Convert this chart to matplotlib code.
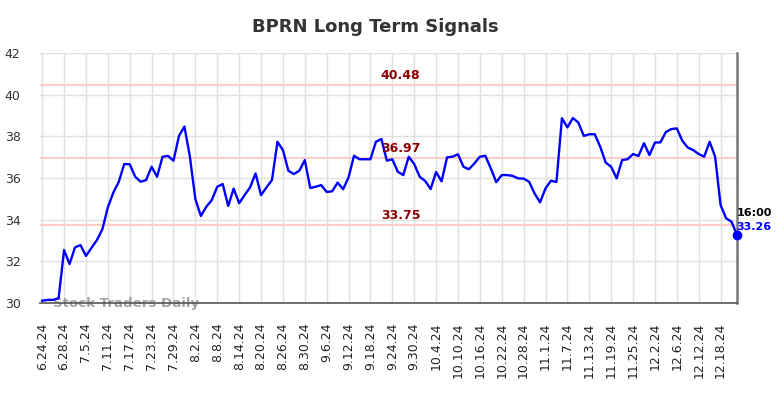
import matplotlib
matplotlib.use("Agg")
import matplotlib.pyplot as plt

title = "BPRN Long Term Signals"
tick_labels = ["6.24.24", "6.28.24", "7.5.24", "7.11.24", "7.17.24", "7.23.24", "7.29.24",
               "8.2.24", "8.8.24", "8.14.24", "8.20.24", "8.26.24", "8.30.24", "9.6.24",
               "9.12.24", "9.18.24", "9.24.24", "9.30.24", "10.4.24", "10.10.24", "10.16.24",
               "10.22.24", "10.28.24", "11.1.24", "11.7.24", "11.13.24", "11.19.24",
               "11.25.24", "12.2.24", "12.6.24", "12.12.24", "12.18.24"]
tick_step = 4

prices = [
    30.11, 30.15, 30.15, 30.23, 32.54, 31.87, 32.67, 32.78, 32.26, 32.64,
    33.02, 33.54, 34.59, 35.30, 35.82, 36.67, 36.66, 36.06, 35.82, 35.90,
    36.54, 36.06, 37.02, 37.06, 36.83, 38.02, 38.47, 37.02, 34.98, 34.18,
    34.62, 34.94, 35.58, 35.71, 34.66, 35.49, 34.79, 35.18, 35.55, 36.22,
    35.18, 35.55, 35.90, 37.74, 37.34, 36.35, 36.19, 36.35, 36.86, 35.52,
    35.58, 35.66, 35.33, 35.36, 35.78, 35.46, 36.03, 37.07, 36.90, 36.90,
    36.90, 37.74, 37.87, 36.83, 36.90, 36.30, 36.14, 37.02, 36.67, 36.06,
    35.86, 35.47, 36.29, 35.84, 36.99, 37.02, 37.14, 36.54, 36.42, 36.70,
    37.02, 37.07, 36.46, 35.80, 36.14, 36.14, 36.10, 35.98, 35.97, 35.82,
    35.26, 34.83, 35.50, 35.87, 35.81, 38.87, 38.43, 38.88, 38.66, 38.02,
    38.10, 38.10, 37.50, 36.74, 36.54, 35.98, 36.86, 36.90, 37.15, 37.06,
    37.67, 37.10, 37.70, 37.71, 38.21, 38.35, 38.38, 37.79, 37.46, 37.34,
    37.15, 37.02, 37.74, 37.02, 34.70, 34.07, 33.90, 33.26,
]
levels = [40.48, 36.97, 33.75]
last_time = "16:00"
y_ticks = [30, 32, 34, 36, 38, 40, 42]

fig = plt.figure(figsize=(7.84, 3.98), dpi=100)
ax = fig.add_axes([40/784, 1-303/398, (737-40)/784, (303-53)/398])

x = list(range(len(prices)))
for lv in levels:
    ax.axhline(lv, color="#ffcccc", lw=1.5, zorder=1)
ax.plot(x, prices, color="#0000ff", lw=1.7, zorder=3)
ax.plot(x[-1], prices[-1], "o", color="#0000ff", ms=6, zorder=4, clip_on=False)

label_x = 65.5
for lv in levels:
    ax.text(label_x, lv + 0.15, f"{lv:.2f}", color="#8b0000", fontsize=9,
            fontweight="bold", ha="center", va="bottom", zorder=5)

ax.text(x[-1] - 0.1, prices[-1] + 1.05, last_time, color="black", fontsize=8,
        fontweight="bold", ha="left", va="center", clip_on=False)
ax.text(x[-1] - 0.1, prices[-1] + 0.38, f"{prices[-1]:.2f}", color="#0000ff", fontsize=8,
        fontweight="bold", ha="left", va="center", clip_on=False)

ax.text(2, 30.0, "Stock Traders Daily", color="#999999", fontsize=9.6,
        fontweight="bold", ha="left", va="center", alpha=0.9, zorder=2)

ax.set_xlim(-0.4, len(prices) - 1)
ax.set_ylim(30, 42)
ax.set_yticks(y_ticks)
ax.set_yticklabels([str(v) for v in y_ticks], fontsize=9, color="#333333")
ax.set_xticks(list(range(0, len(tick_labels) * tick_step, tick_step)))
ax.set_xticklabels(tick_labels, rotation=90, fontsize=9, color="#222222")
ax.tick_params(axis="both", length=0)
ax.tick_params(axis="x", pad=14)
ax.tick_params(axis="y", pad=14)
ax.grid(True, color="#e0e0e0", lw=1)
ax.set_axisbelow(True)
for s in ["top", "left"]:
    ax.spines[s].set_visible(False)
ax.spines["bottom"].set_color("#555555")
ax.spines["bottom"].set_linewidth(1.2)
ax.spines["right"].set_color("#777777")
ax.spines["right"].set_linewidth(1.8)

fig.text(375/784, 1-27/398, title, ha="center", va="center", fontsize=13,
         fontweight="bold", color="#333333")

fig.savefig("out.png", dpi=100)
